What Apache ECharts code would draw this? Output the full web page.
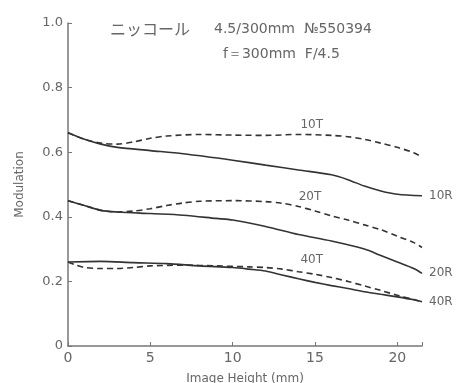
<!DOCTYPE html>
<html>
<head>
<meta charset="utf-8">
<script src="https://cdn.jsdelivr.net/npm/echarts@6/dist/echarts.min.js"></script>
<style>
  html, body { margin: 0; padding: 0; background: #fff; }
  #chart { width: 457px; height: 383px; }
</style>
</head>
<body>
<div id="chart"></div>
<script>
// MTF curves: [image height (mm), modulation]
const r10 = [[0,0.66],[1,0.64],[2,0.625],[3,0.615],[5,0.605],[7,0.595],[10,0.575],[12,0.56],[14,0.545],[16,0.53],[17,0.515],[18,0.495],[19,0.48],[20,0.47],[21.5,0.465]];
const t10 = [[0,0.66],[1,0.64],[2,0.628],[3,0.625],[4,0.632],[5,0.643],[6,0.65],[8,0.655],[10,0.653],[12,0.652],[14,0.655],[16,0.652],[17,0.648],[18,0.64],[19,0.628],[20,0.615],[21,0.598],[21.5,0.585]];
const r20 = [[0,0.45],[1,0.435],[2,0.42],[3,0.415],[5,0.41],[7,0.405],[9,0.395],[10,0.39],[12,0.37],[14,0.345],[16,0.325],[18,0.3],[19,0.28],[20,0.26],[21,0.24],[21.5,0.225]];
const t20 = [[0,0.45],[1,0.435],[2,0.42],[3,0.415],[4,0.418],[5,0.425],[6,0.435],[7,0.443],[8,0.448],[10,0.45],[12,0.447],[13,0.442],[14,0.432],[15,0.418],[16,0.403],[17,0.39],[18,0.375],[19,0.36],[20,0.34],[21,0.32],[21.5,0.305]];
const r40 = [[0,0.26],[2,0.262],[4,0.258],[6,0.255],[8,0.248],[10,0.243],[11,0.238],[12,0.232],[13,0.22],[14,0.208],[15,0.197],[16,0.187],[17,0.178],[18,0.168],[19,0.16],[20,0.152],[21,0.143],[21.5,0.137]];
const t40 = [[0,0.26],[0.5,0.25],[1,0.243],[2,0.24],[3,0.24],[4,0.243],[5,0.248],[7,0.25],[9,0.248],[11,0.245],[12,0.243],[13,0.238],[14,0.23],[15,0.222],[16,0.212],[17,0.2],[18,0.186],[19,0.172],[20,0.157],[21,0.144],[21.5,0.137]];
// where the T labels sit
const tLabelPos = { "10T": [14.8, 0.685], "20T": [14.7, 0.462], "40T": [14.8, 0.268] };
const lensName = "ニッコール";
const lensNumber = "4.5/300mm  №550394";
const lensSpec = "f＝300mm  F/4.5";

const ink = "#333";
const textColor = "#666";
const font = "DejaVu Sans";

function solid(name, data) {
  return {
    name, type: "line", data, smooth: 0.3, symbol: "none",
    lineStyle: { color: ink, width: 1.6 },
    endLabel: { show: true, formatter: name, color: textColor, fontFamily: font, fontSize: 12, distance: 7 },
  };
}
function dashed(name, data) {
  return {
    name, type: "line", data, smooth: 0.3, symbol: "none",
    lineStyle: { color: ink, width: 1.6, type: [6, 4] },
    markPoint: {
      symbol: "circle", symbolSize: 1,
      itemStyle: { color: "rgba(0,0,0,0)" },
      label: { show: true, position: "inside", formatter: name, color: textColor, fontFamily: font, fontSize: 12 },
      data: [{ coord: tLabelPos[name] }],
    },
  };
}

const chart = echarts.init(document.getElementById("chart"));
chart.setOption({
  animation: false,
  grid: { left: 68, right: 35, top: 23, bottom: 37, outerBoundsMode: "none", containLabel: false },
  graphic: [
    { type: "text", left: 110, top: 21, style: { text: lensName, fill: textColor, font: "16px 'Noto Sans CJK JP'" } },
    { type: "text", left: 214, top: 22, style: { text: lensNumber, fill: textColor, font: "14px 'DejaVu Sans'" } },
    { type: "text", left: 223, top: 47, style: { text: lensSpec, fill: textColor, font: "14px 'DejaVu Sans'" } },
  ],
  xAxis: {
    type: "value", min: 0, max: 21.5, interval: 5,
    name: "Image Height (mm)", nameLocation: "middle", nameGap: 27,
    nameTextStyle: { color: textColor, fontFamily: font, fontSize: 12 },
    axisLine: { lineStyle: { color: "#777", width: 1.5 } },
    axisTick: { inside: true, length: 4, lineStyle: { color: "#777" } },
    axisLabel: {
      color: textColor, fontFamily: font, fontSize: 14, margin: 5,
      formatter: v => (v % 5 === 0 ? String(v) : ""),
    },
    splitLine: { show: false },
  },
  yAxis: {
    type: "value", min: 0, max: 1, interval: 0.2,
    name: "Modulation", nameLocation: "middle", nameGap: 42,
    nameTextStyle: { color: textColor, fontFamily: font, fontSize: 12 },
    axisLine: { show: true, lineStyle: { color: "#777", width: 1.5 } },
    axisTick: { show: true, inside: true, length: 4, lineStyle: { color: "#777" } },
    axisLabel: {
      color: textColor, fontFamily: font, fontSize: 13, margin: 5,
      formatter: v => (v === 0 ? "0" : v.toFixed(1)),
    },
    splitLine: { show: false },
  },
  series: [
    solid("10R", r10), dashed("10T", t10),
    solid("20R", r20), dashed("20T", t20),
    solid("40R", r40), dashed("40T", t40),
  ],
});
</script>
</body>
</html>
